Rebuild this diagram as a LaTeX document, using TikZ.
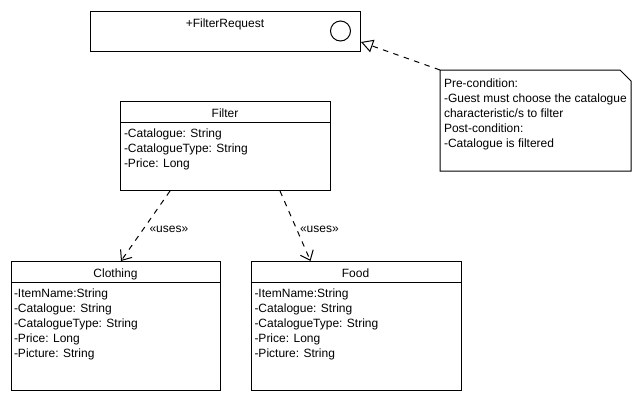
\documentclass[tikz,border=0pt]{standalone}
\usepackage{fontspec}
\setmainfont{Liberation Sans}
\usetikzlibrary{arrows.meta,calc}
\begin{document}
\begin{tikzpicture}[x=1pt,y=-1pt,line width=1pt,
  every node/.style={font=\fontsize{12}{15}\selectfont, inner sep=0pt},
  box/.style={draw, rectangle, anchor=north west},
  attr/.style={align=left, anchor=north west},
  ttl/.style={anchor=base},
  dep/.style={dash pattern=on 5.5pt off 5.5pt, -{Straight Barb[length=8.5pt,width=14pt]}},
  real/.style={dash pattern=on 5.5pt off 5.5pt, -{Triangle[length=12pt,width=13pt,fill=white]}}]
\useasboundingbox (0,0) rectangle (640,400);
% FilterRequest interface box
\node[box, minimum width=270pt, minimum height=40pt] (frq) at (90,10.5) {};
\node[ttl] (frqt) at (225,27.6) {+FilterRequest};
\node[draw, circle, minimum size=20pt] (frqc) at (340.5,31) {};
% Filter class
\node[box, minimum width=210pt, minimum height=89pt] (filter) at (120,101) {};
\draw (120,122) -- (330,122);
\node[ttl] (filtert) at (225,117.3) {Filter};
\node[attr] (filtera) at (123.5,128.4) {-Catalogue: String\\-CatalogueType: String\\-Price: Long};
% Clothing class
\node[box, minimum width=209pt, minimum height=129pt] (cloth) at (11,261) {};
\draw (11,282) -- (220,282);
\node[ttl] (clotht) at (115.5,277.3) {Clothing};
\node[attr] (clotha) at (13.5,288.4) {-ItemName:String\\-Catalogue: String\\-CatalogueType: String\\-Price: Long\\-Picture: String};
% Food class
\node[box, minimum width=210pt, minimum height=129pt] (food) at (250.5,261) {};
\draw (250.5,282) -- (460.5,282);
\node[ttl] (foodt) at (355.5,277.3) {Food};
\node[attr] (fooda) at (254,288.4) {-ItemName:String\\-Catalogue: String\\-CatalogueType: String\\-Price: Long\\-Picture: String};
% Note
\node[anchor=north west, minimum width=190pt, minimum height=100pt] (note) at (440,70) {};
\draw (note.north west) -- ($(note.north east)+(-11,0)$) -- ($(note.north east)+(0,11)$) -- (note.south east) -- (note.south west) -- cycle;
\node[attr] (notet) at (443.5,78.7) {Pre-condition:\\-Guest must choose the catalogue\\characteristic/s to filter\\Post-condition:\\-Catalogue is filtered};
% Connectors
\coordinate (rtip) at ($(frq.south east)+(0,-9.5)$);
\draw[real] (note.north west) -- (rtip);
\coordinate (d1s) at ($(filter.south west)+(50,0)$);
\coordinate (d1e) at ($(cloth.north west)+(110,0)$);
\coordinate (d2s) at ($(filter.south west)+(160,0)$);
\coordinate (d2e) at ($(food.north west)+(60,0)$);
\draw[dep] (d1s) -- (d1e);
\draw[dep] (d2s) -- (d2e);
\node[anchor=west] (u1) at (149,229.5) {«uses»};
\node[anchor=west] (u2) at (299.5,229.5) {«uses»};
\end{tikzpicture}
\end{document}
